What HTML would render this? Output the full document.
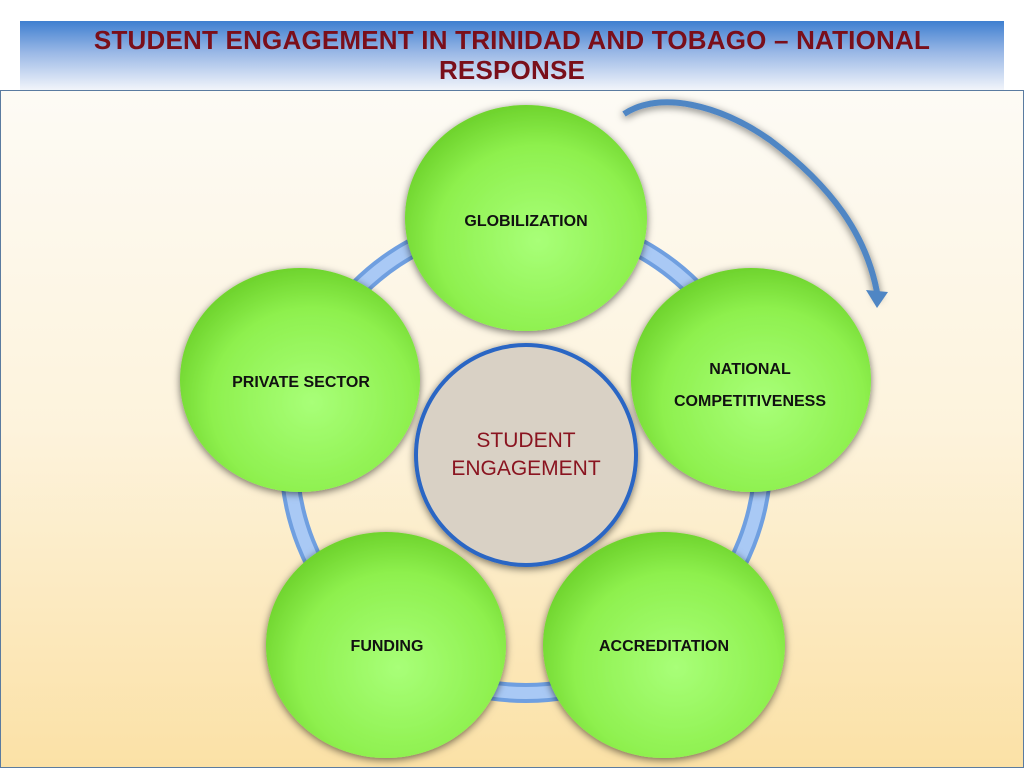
<!DOCTYPE html>
<html><head><style>
html,body{margin:0;padding:0;width:1024px;height:768px;overflow:hidden;background:#fff;font-family:"Liberation Sans",sans-serif;}
.hdr{position:absolute;left:20px;top:21px;width:984px;height:70px;background:linear-gradient(#3f7fd0 0%,#9ab8e6 45%,#f4f6fb 100%);}
.hdr div{position:absolute;left:0;width:100%;text-align:center;color:#7a0f1a;font-weight:bold;font-size:26px;letter-spacing:0.2px;}
.frame{position:absolute;left:0;top:90px;width:1022px;height:676px;border:1px solid #5a7ba0;background:linear-gradient(#fdfbf5 0%,#fdf3dc 50%,#fbe1a6 100%);}
</style></head><body>
<div class="hdr"><div style="top:4px">STUDENT ENGAGEMENT IN TRINIDAD AND TOBAGO – NATIONAL</div><div style="top:34px">RESPONSE</div></div>
<div class="frame"></div>
<svg width="1024" height="768" style="position:absolute;left:0;top:0">
<defs>
<radialGradient id="g" cx="55%" cy="60%" r="60%">
<stop offset="0" stop-color="#a8ff78"/><stop offset="0.7" stop-color="#8ef04e"/><stop offset="1" stop-color="#6fd42e"/></radialGradient>
<filter id="s" x="-20%" y="-20%" width="140%" height="140%"><feDropShadow dx="0" dy="2" stdDeviation="4" flood-color="#000" flood-opacity="0.55"/></filter>
</defs>
<circle cx="526" cy="456" r="237" fill="none" stroke="#6f9fe0" stroke-width="20"/>
<circle cx="526" cy="456" r="237" fill="none" stroke="#a9c9f5" stroke-width="12"/>
<path d="M624,114 C660,90 720,105 770,140 C830,185 868,235 878,298" fill="none" stroke="#4f86c4" stroke-width="6" filter="url(#s)"/>
<polygon points="866,290 888,292 877,308" fill="#4f86c4"/>
<g filter="url(#s)">
<ellipse cx="526" cy="218" rx="121" ry="113" fill="url(#g)"/>
<ellipse cx="300" cy="380" rx="120" ry="112" fill="url(#g)"/>
<ellipse cx="751" cy="380" rx="120" ry="112" fill="url(#g)"/>
<ellipse cx="386" cy="645" rx="120" ry="113" fill="url(#g)"/>
<ellipse cx="664" cy="645" rx="121" ry="113" fill="url(#g)"/>
<circle cx="526" cy="455" r="110" fill="#d9d1c5" stroke="#2a66c4" stroke-width="4"/>
</g>
<g font-family="Liberation Sans, sans-serif" font-weight="bold" font-size="16" fill="#111" text-anchor="middle">
<text x="526" y="226">GLOBILIZATION</text>
<text x="301" y="387">PRIVATE SECTOR</text>
<text x="750" y="374">NATIONAL</text>
<text x="750" y="406">COMPETITIVENESS</text>
<text x="387" y="651">FUNDING</text>
<text x="664" y="651">ACCREDITATION</text>
</g>
<g font-family="Liberation Sans, sans-serif" font-size="21" fill="#8a1420" text-anchor="middle">
<text x="526" y="447">STUDENT</text>
<text x="526" y="475">ENGAGEMENT</text>
</g>
</svg>
</body></html>
